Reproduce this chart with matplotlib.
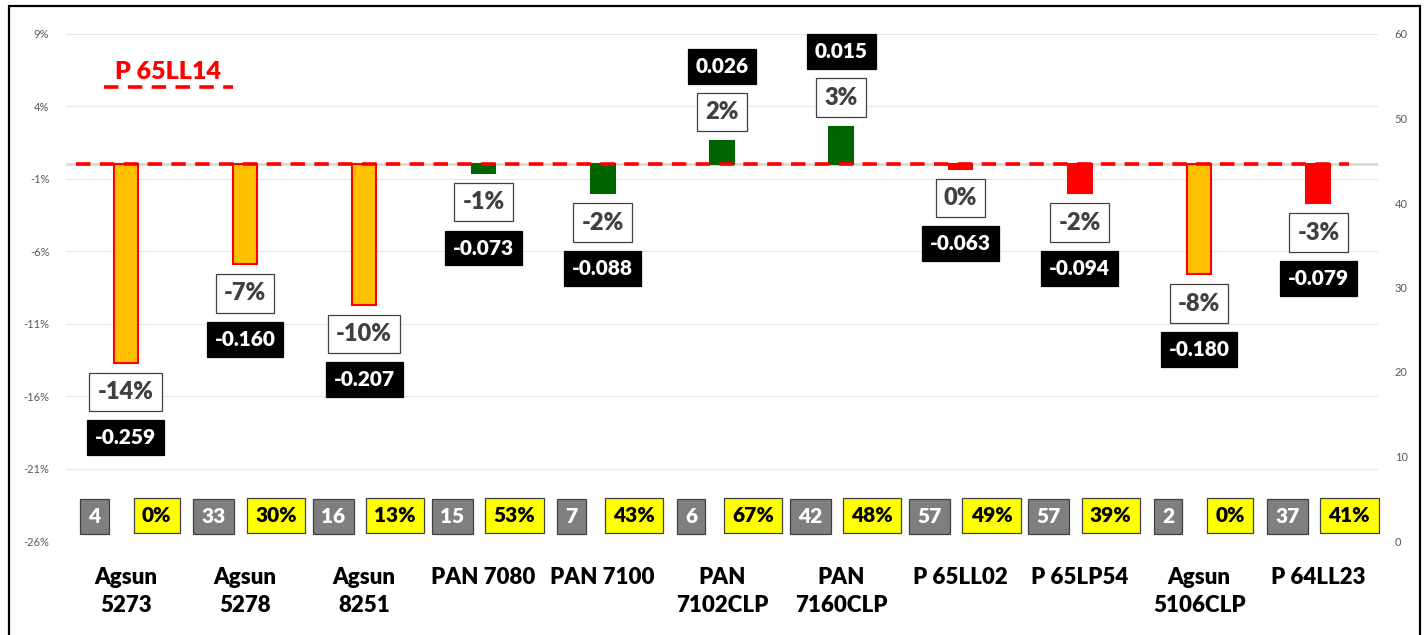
import matplotlib
matplotlib.use("Agg")
import matplotlib.pyplot as plt
from matplotlib.patches import Rectangle
import numpy as np

plt.rcParams['font.family'] = ['Lato', 'DejaVu Sans']

# data
hybrids = ['Agsun\n5273', 'Agsun\n5278', 'Agsun\n8251', 'PAN 7080', 'PAN 7100',
           'PAN\n7102CLP', 'PAN\n7160CLP', 'P 65LL02', 'P 65LP54',
           'Agsun\n5106CLP', 'P 64LL23']
diff_pct = [-13.7, -6.9, -9.7, -0.6, -2.0, 1.6, 2.6, -0.3, -2.0, -7.6, -2.7]
pct_labels = ['-14%', '-7%', '-10%', '-1%', '-2%', '2%', '3%', '0%', '-2%', '-8%', '-3%']
diff_abs = [-0.259, -0.160, -0.207, -0.073, -0.088, 0.026, 0.015, -0.063, -0.094, -0.180, -0.079]
group = ['agsun', 'agsun', 'agsun', 'pan', 'pan', 'pan', 'pan', 'p', 'p', 'agsun', 'p']
n_trials = [4, 33, 16, 15, 7, 6, 42, 57, 57, 2, 37]
win_rate = [0, 30, 13, 53, 43, 67, 48, 49, 39, 0, 41]
check = 'P 65LL14'

fills = {'agsun': '#FFC000', 'pan': '#006400', 'p': '#FF0000'}
edges = {'agsun': '#FF0000', 'pan': '#006400', 'p': '#FF0000'}
W = 'heavy'

fig = plt.figure(figsize=(14.25, 6.35), dpi=100)
ax = fig.add_axes([66/1425, 1-541/635, (1378-66)/1425, (541-34)/635])
ax2 = ax.twinx()

x = np.arange(len(hybrids))
ax.set_xlim(-0.5, len(hybrids)-0.5)
ax.set_ylim(-26, 9)
ax2.set_ylim(0, 60)

yt = np.arange(-26, 10, 5)
ax.set_yticks(yt)
ax.set_yticklabels([f'{v}%' for v in yt], fontsize=8, color='#595959')
ax.grid(axis='y', color='#E8E8E8', lw=0.8)
ax.set_axisbelow(True)
ax2.set_yticks(range(0, 61, 10))
ax2.set_yticklabels([str(v) for v in range(0, 61, 10)], fontsize=8, color='#595959')
for a in (ax, ax2):
    for s in a.spines.values():
        s.set_visible(False)
    a.tick_params(length=0)
ax.tick_params(axis='y', pad=12)
ax2.tick_params(axis='y', pad=12)

ax.set_xticks(x)
ax.set_xticklabels(hybrids, fontsize=16, fontweight=W, color='black', linespacing=1.4)
ax.tick_params(axis='x', pad=19)

ax.axhline(0, color='#D9D9D9', lw=2, zorder=1)
ax.bar(x, diff_pct, width=0.2, color=[fills[g] for g in group],
       edgecolor=[edges[g] for g in group], linewidth=1.5, zorder=3)
ax.plot([-0.42, 10.26], [0, 0], color='#FF0000', lw=2.6, ls=(0, (4, 2.6)), zorder=4)

for xi, v, pl, ab in zip(x, diff_pct, pct_labels, diff_abs):
    sgn = 1 if v > 0 else -1
    ax.annotate(pl, (xi, v), xytext=(0, sgn*21), textcoords='offset points',
                ha='center', va='center', fontsize=17, fontweight=W, color='#404040',
                bbox=dict(boxstyle='square,pad=0.35', fc='white', ec='#404040', lw=0.9), zorder=5)
    ax.annotate(f'{ab:.3f}', (xi, v), xytext=(0, sgn*54), textcoords='offset points',
                ha='center', va='center', fontsize=15, fontweight=W, color='white',
                bbox=dict(boxstyle='square,pad=0.38', fc='black', ec='black', lw=0.9), zorder=5)

for xi, nt, wr in zip(x, n_trials, win_rate):
    ax2.text(xi-0.26, 2.9, str(nt), ha='center', va='center', fontsize=15, fontweight=W,
             color='white', bbox=dict(boxstyle='square,pad=0.4', fc='#7F7F7F', ec='#404040', lw=0.9))
    ax2.text(xi+0.26, 3.0, f'{wr}%', ha='center', va='center', fontsize=15, fontweight=W,
             color='black', bbox=dict(boxstyle='square,pad=0.4', fc='#FFFF00', ec='#404040', lw=0.9))

# legend-like label for the check hybrid
ax.text(0.0375, 0.925, check, transform=ax.transAxes, ha='left', va='center',
        fontsize=18, fontweight=W, color='#FF0000')
ax.plot([0.029, 0.127], [0.895, 0.895], transform=ax.transAxes, color='#FF0000',
        lw=2.6, ls=(0, (4, 2.6)), clip_on=False)

fig.patches.append(Rectangle((9/1425, -0.1), 1411/1425, 1.1-6/635, transform=fig.transFigure,
                             fill=False, ec='black', lw=1.6))

fig.savefig('out.png', dpi=100)
